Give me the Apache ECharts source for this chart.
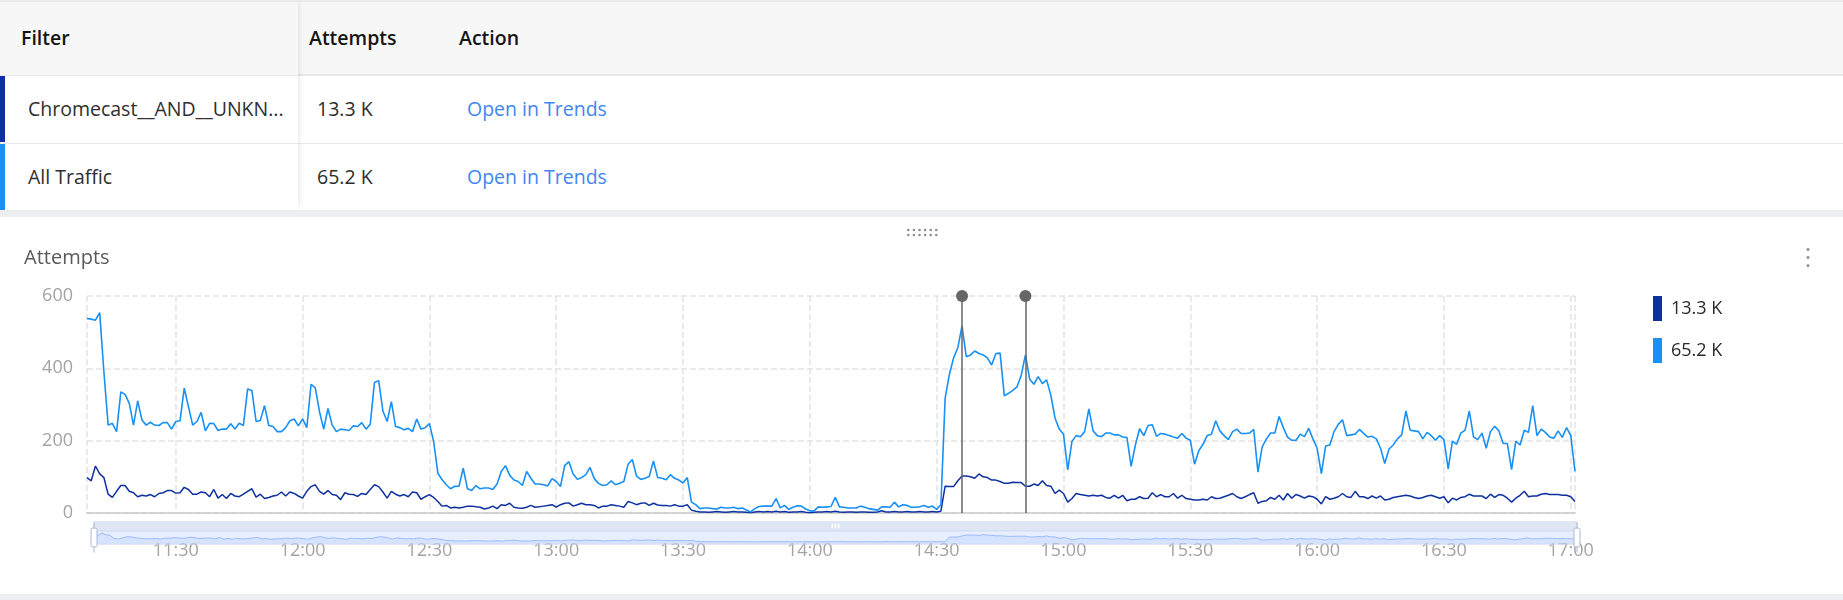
<!DOCTYPE html>
<html>
<head>
<meta charset="utf-8">
<script src="https://cdn.jsdelivr.net/npm/echarts@6/dist/echarts.min.js"></script>
<style>
html,body{margin:0;padding:0;width:1843px;height:600px;overflow:hidden;background:#eceef1;font-family:"Open Sans",sans-serif;}
.abs{position:absolute;}
#table{left:0;top:0;width:1843px;height:210px;background:#fff;}
#hdr{left:0;top:0;width:1843px;height:75px;background:#f7f7f7;border-top:2px solid #ebebeb;box-sizing:border-box;}
#col1{left:0;top:0;width:298px;height:210px;box-shadow:4px 0 6px -3px rgba(0,0,0,0.10);z-index:2;}
#col1 .h{position:absolute;left:0;top:0;width:298px;height:75px;background:#f7f7f7;border-top:2px solid #ebebeb;box-sizing:border-box;}
.sep{left:0;width:1843px;height:1.5px;background:#e9e9e9;}
.th{font-size:19.5px;font-weight:600;color:#151515;line-height:26px;white-space:nowrap;z-index:3;}
.td{font-size:19.5px;font-weight:400;color:#2e2e2e;line-height:26px;white-space:nowrap;z-index:3;}
.lnk{color:#4286f0;}
.bar{left:0;width:5px;z-index:4;}
#chart{left:0;top:217px;width:1843px;height:377px;background:#fff;}
</style>
</head>
<body>
<div id="table" class="abs">
  <div id="hdr" class="abs"></div>
  <div id="col1" class="abs"><div class="h"></div></div>
  <div class="abs sep" style="top:74px"></div>
  <div class="abs sep" style="top:142.5px"></div>
  <div class="abs bar" style="top:76px;height:66px;background:#0e319f"></div>
  <div class="abs bar" style="top:144px;height:66px;background:#1890f5"></div>
  <div class="abs th" style="left:21px;top:25px">Filter</div>
  <div class="abs th" style="left:309px;top:25px">Attempts</div>
  <div class="abs th" style="left:459px;top:25px">Action</div>
  <div class="abs td" style="left:28px;top:96px">Chromecast__AND__UNKN...</div>
  <div class="abs td" style="left:317px;top:96px">13.3 K</div>
  <div class="abs td lnk" style="left:467px;top:96px">Open in Trends</div>
  <div class="abs td" style="left:28px;top:164px">All Traffic</div>
  <div class="abs td" style="left:317px;top:164px">65.2 K</div>
  <div class="abs td lnk" style="left:467px;top:164px">Open in Trends</div>
</div>
<div id="chart" class="abs"></div>
<script>
// ---- data ----
const startTime = '11:09';          // first minute of the series (1-minute steps)
const seriesNames = ['Chromecast__AND__UNKN...', 'All Traffic'];
const legendLabels = ['13.3 K', '65.2 K'];
const seriesColors = ['#0e319f', '#1890f5'];
const markerTimes = ['14:36', '14:51'];
const yTicks = [0, 200, 400, 600];

const chromecast = [
98,89,130,108,98,52,43,60,76,76,60,56,45,49,47,51,45,54,56,62,
62,55,56,71,65,52,52,58,56,45,65,41,51,40,54,47,45,52,60,67,
44,52,40,43,47,49,58,47,58,54,47,41,60,73,78,60,52,62,51,49,
37,56,52,51,46,54,51,65,78,73,58,41,60,52,47,51,45,58,56,38,
45,51,43,32,19,21,14,16,14,16,19,19,17,16,11,14,19,12,23,21,
27,16,14,13,16,21,16,17,19,21,23,16,23,27,28,19,23,27,23,23,
21,14,19,19,23,21,19,16,32,28,23,27,28,21,27,22,21,21,19,23,
19,19,23,8,5,3,3,2,3,4,3,2,3,4,3,3,2,1,3,4,
3,4,3,5,3,4,2,3,3,4,2,1,2,3,3,4,3,5,3,2,
3,3,2,3,3,2,2,3,6,3,3,4,3,3,4,3,3,4,3,3,
4,3,5,74,73,73,89,102,102,100,96,108,100,98,91,91,87,82,82,85,
84,84,74,74,80,76,89,76,74,54,63,54,30,40,54,51,49,47,49,47,
49,43,41,49,41,49,34,38,38,45,40,41,56,45,51,45,45,54,41,49,
40,38,36,36,38,36,45,40,41,45,49,54,45,40,45,51,56,27,32,34,
43,38,49,36,54,41,51,47,41,47,45,38,25,45,38,41,45,54,45,43,
60,45,45,40,47,41,47,36,38,43,45,47,49,47,43,40,43,47,49,45,
41,45,28,41,36,43,45,52,47,47,47,40,52,43,51,49,41,30,41,49,
60,45,47,47,52,54,51,51,51,49,49,45,32
];

const allTraffic = [
538,536,533,554,390,243,248,225,335,328,303,243,310,257,243,251,243,242,250,250,
232,253,255,345,294,243,253,278,227,248,247,228,232,232,247,232,248,242,343,339,
253,256,297,242,239,225,225,236,255,260,241,260,236,356,346,280,232,289,243,225,
232,230,228,241,239,250,232,245,361,366,282,253,308,239,236,230,234,225,260,232,
236,247,198,110,92,78,67,74,74,124,67,62,76,67,69,69,65,80,115,131,
104,91,87,76,115,96,80,80,78,75,95,87,73,131,142,108,93,98,106,126,
95,82,76,78,89,78,82,87,135,148,102,93,96,101,144,98,96,92,106,96,
91,83,98,30,23,12,14,14,12,11,16,14,14,16,12,14,8,3,12,18,
19,19,19,40,14,21,10,16,20,19,11,6,6,17,16,17,18,43,17,16,
14,14,14,19,16,12,10,8,17,17,16,30,17,23,21,16,16,17,21,16,
19,10,23,317,383,429,457,517,432,437,448,441,437,429,409,441,442,324,331,339,
349,381,437,370,356,377,358,368,326,262,232,218,119,198,214,211,225,288,227,214,
211,221,221,216,216,210,209,129,188,233,214,242,244,212,220,218,214,210,207,220,
207,201,135,172,190,214,218,255,227,214,203,225,232,220,220,221,231,113,183,205,
221,221,267,236,210,201,201,218,211,234,205,179,109,185,188,225,245,258,214,216,
218,231,220,210,212,205,179,137,177,188,205,216,282,229,227,225,205,223,214,201,
214,203,122,199,190,221,229,282,210,203,221,179,225,240,227,192,192,120,199,188,
229,223,297,214,232,223,210,207,227,209,236,214,115
];

// category labels: one per minute, starting at startTime
function pad(n){return (n<10?'0':'')+n;}
const startMin = parseInt(startTime.split(':')[0],10)*60 + parseInt(startTime.split(':')[1],10);
const minutes = allTraffic.map(function(_, i){ const m = startMin + i; return pad(Math.floor(m/60)) + ':' + pad(m%60); });
const lastIdx = minutes.length - 1;
const isHalfHour = function(v){ return v.slice(3) === '00' || v.slice(3) === '30'; };

const FONT = 'Open Sans';
const chart = echarts.init(document.getElementById('chart'));

const graphics = [];
// kebab menu dots
[32.4, 40.4, 48.6].forEach(function(y){
  graphics.push({type:'circle', left:1806.4, top:y-1.6, shape:{r:1.6}, style:{fill:'#9b9b9b'}, silent:true});
});
// drag handle dots
for (let c = 0; c < 6; c++) {
  [13, 18].forEach(function(y){
    graphics.push({type:'circle', left:907 + c*5.6, top:y-1.3, shape:{r:1.3}, style:{fill:'#8e8e8e'}, silent:true});
  });
}

chart.setOption({
  animation: false,
  textStyle: {fontFamily: FONT},
  title: {
    text: 'Attempts', left: 19, top: 26,
    textStyle: {fontSize: 20, fontWeight: 'normal', color: '#5a5a5a', fontFamily: FONT}
  },
  legend: {
    orient: 'vertical', left: 1653, top: 79, padding: 0,
    icon: 'rect', itemWidth: 9, itemHeight: 25, itemGap: 17,
    data: seriesNames,
    formatter: function(name){ return legendLabels[seriesNames.indexOf(name)]; },
    textStyle: {fontSize: 18, color: '#2a2a2a', fontFamily: FONT, padding: [0,0,0,4]}
  },
  grid: {left: 87, right: 268, top: 79, bottom: 81, containLabel: false, outerBoundsMode: 'none'},
  xAxis: {
    type: 'category', data: minutes, boundaryGap: false,
    axisLine: {show: true, lineStyle: {color: '#cccccc', width: 1.5}},
    axisTick: {show: false},
    axisLabel: {
      interval: function(i, v){ return isHalfHour(v); },
      color: '#a3a3a3', fontSize: 18, margin: 29, fontFamily: FONT
    },
    splitLine: {
      show: true,
      interval: function(i, v){ return i === 0 || i === lastIdx || isHalfHour(v); },
      lineStyle: {type: 'dashed', color: '#e4e4e4', width: 1.5}
    }
  },
  yAxis: {
    type: 'value', min: yTicks[0], max: yTicks[yTicks.length-1], interval: yTicks[1]-yTicks[0],
    axisLine: {show: false}, axisTick: {show: false},
    axisLabel: {color: '#a3a3a3', fontSize: 18, margin: 14, fontFamily: FONT},
    splitLine: {lineStyle: {type: 'dashed', color: '#e4e4e4', width: 1.5}}
  },
  dataZoom: [{
    type: 'slider', xAxisIndex: 0, start: 0, end: 100,
    left: 89, right: 269, top: 304, height: 14,
    showDetail: false, moveHandleSize: 10, handleSize: 30,
    backgroundColor: 'rgba(47,69,84,0)', borderColor: '#d2dbee',
    fillerColor: 'rgba(135,175,274,0.2)',
    dataBackground: {lineStyle: {color: '#d2dbee', width: 0.5}, areaStyle: {color: '#d2dbee', opacity: 0.2}},
    selectedDataBackground: {lineStyle: {color: '#8fb0f7', width: 0.8}, areaStyle: {color: '#8fb0f7', opacity: 0.2}},
    handleIcon: 'path://M-9.35,34.56V42m0-40V9.5m-2,0h4a2,2,0,0,1,2,2v21a2,2,0,0,1-2,2h-4a2,2,0,0,1-2-2v-21A2,2,0,0,1-11.35,9.5Z',
    handleStyle: {color: '#fff', borderColor: '#acb8d1'},
    moveHandleStyle: {color: '#d2dbee', opacity: 0.7},
    textStyle: {color: 'transparent'}
  }],
  series: [
    {
      name: seriesNames[0], type: 'line', data: chromecast, symbol: 'none',
      lineStyle: {width: 1.5, color: seriesColors[0]}, itemStyle: {color: seriesColors[0]}
    },
    {
      name: seriesNames[1], type: 'line', data: allTraffic, symbol: 'none',
      lineStyle: {width: 1.6, color: seriesColors[1]}, itemStyle: {color: seriesColors[1]},
      markLine: {
        silent: true, symbol: ['none', 'circle'], symbolSize: 12,
        label: {show: false},
        lineStyle: {color: '#666', width: 1.5, type: 'solid'},
        itemStyle: {color: '#606060'},
        data: markerTimes.map(function(t){ return {xAxis: t}; })
      }
    }
  ],
  graphic: graphics
});
</script>
</body>
</html>
